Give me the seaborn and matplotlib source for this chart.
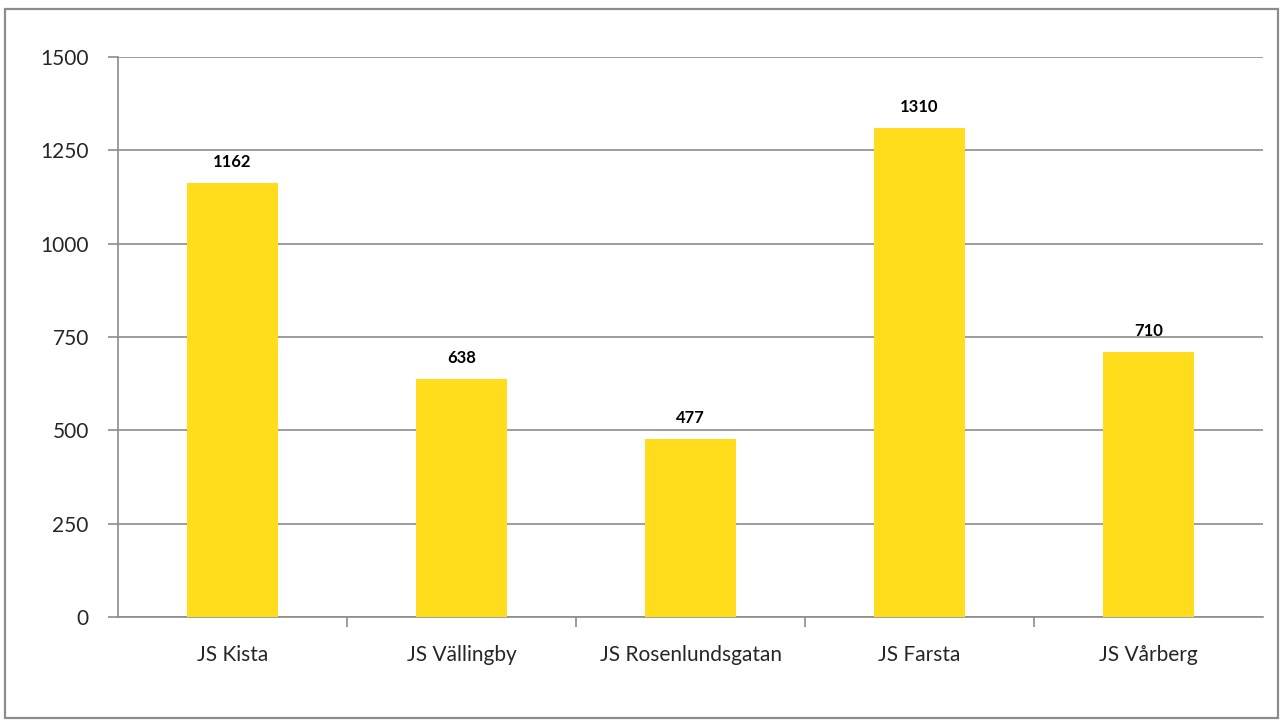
import matplotlib
matplotlib.use("Agg")
import matplotlib.pyplot as plt
import seaborn as sns
import pandas as pd
from matplotlib.patches import Rectangle

# data
kontor = ["JS Kista", "JS Vällingby", "JS Rosenlundsgatan", "JS Farsta", "JS Vårberg"]
antal = [1162, 638, 477, 1310, 710]
y_ticks = [0, 250, 500, 750, 1000, 1250, 1500]

df = pd.DataFrame({"kontor": kontor, "antal": antal})

sns.set_style("white")
plt.rcParams["font.family"] = ["Lato", "DejaVu Sans"]

fig = plt.figure(figsize=(12.83, 7.27), dpi=100)
ax = fig.add_axes([0.0920, 0.1513, 0.8924, 0.7703])

sns.barplot(data=df, x="kontor", y="antal", color="#FFDD1C", saturation=1,
            width=0.4, linewidth=0, ax=ax, zorder=3)

for i, v in enumerate(antal):
    ax.text(i, v + 35, str(v), ha="center", va="bottom",
            fontsize=12, fontweight="bold", color="black")

grey = "#8c8c8c"
ax.set_ylim(0, 1500)
ax.set_xlim(-0.5, len(kontor) - 0.5)
ax.set_yticks(y_ticks)
ax.yaxis.grid(True, color=grey, linewidth=1.2, zorder=0)
ax.tick_params(axis="y", length=7, width=1.2, color=grey, labelsize=15, pad=14, direction="out", left=True)
ax.tick_params(axis="x", length=0, labelsize=15, pad=20)
ax.set_xticks(range(len(kontor)))
ax.set_xticklabels(kontor)
ax.set_xticks([i + 0.5 for i in range(len(kontor) - 1)], minor=True)
ax.tick_params(axis="x", which="minor", length=7, width=1.2, color=grey, direction="out", bottom=True)
ax.set_xlabel("")
ax.set_ylabel("")

for s in ["top", "right"]:
    ax.spines[s].set_visible(False)
for s in ["left", "bottom"]:
    ax.spines[s].set_color(grey)
    ax.spines[s].set_linewidth(1.2)

# outer chart border
fig.patches.append(Rectangle((0.004, 0.012), 0.992, 0.976, transform=fig.transFigure,
                             fill=False, edgecolor=grey, linewidth=1.6))

fig.savefig("out.png", dpi=100)
